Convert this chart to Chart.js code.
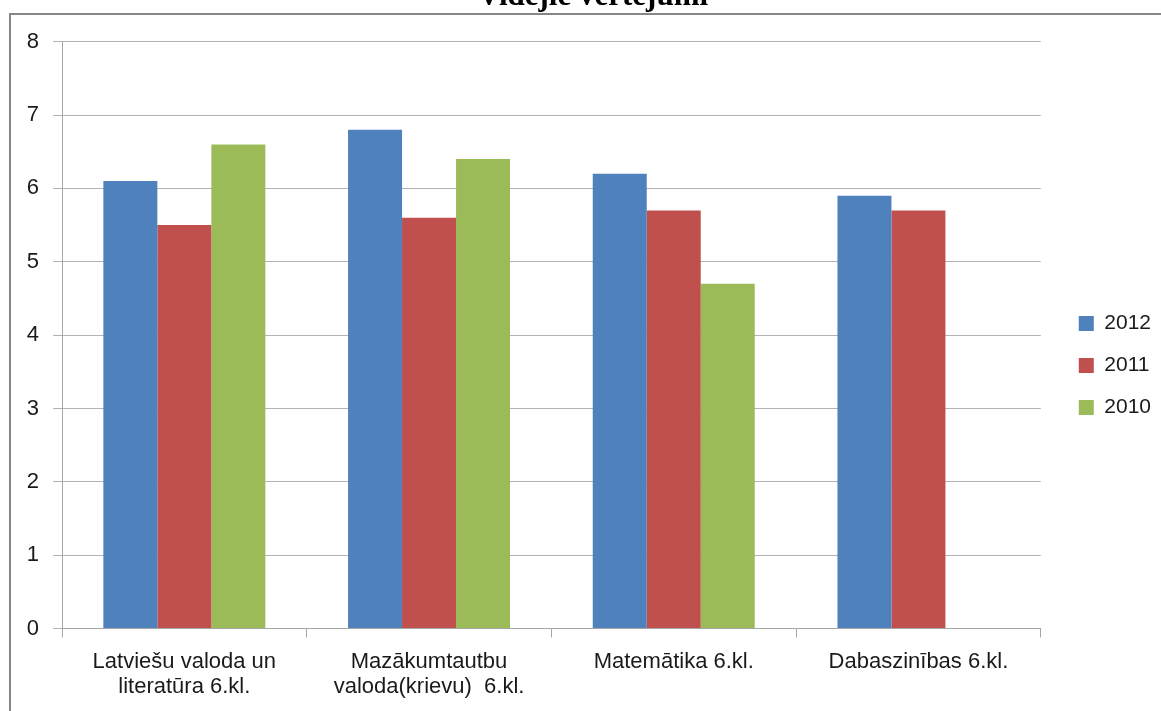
<!DOCTYPE html>
<html>
<head>
<meta charset="utf-8">
<script src="https://cdn.jsdelivr.net/npm/chart.js@4.4.1/dist/chart.umd.min.js"></script>
<style>
  html, body { margin: 0; padding: 0; background: #fff; overflow: hidden; width: 1161px; height: 711px; }
  #frame { position: absolute; left: 9px; top: 13px; width: 1300px; height: 800px;
           border-top: 2px solid #878787; border-left: 2px solid #878787; }
  #gradesChart { position: absolute; left: 0; top: -30px; }
</style>
</head>
<body>
<div id="frame"></div>
<canvas id="gradesChart" width="1161" height="791"></canvas>
<script>
// Average grades by subject
const subjects = [
  ['Latviešu valoda un', 'literatūra 6.kl.'],
  ['Mazākumtautbu', 'valoda(krievu)  6.kl.'],
  'Matemātika 6.kl.',
  'Dabaszinības 6.kl.'
];
const years = ['2012', '2011', '2010'];
const grades2012 = [6.1, 6.8, 6.2, 5.9];
const grades2011 = [5.5, 5.6, 5.7, 5.7];
const grades2010 = [6.6, 6.4, 4.7, null];
const yTicks = [0, 1, 2, 3, 4, 5, 6, 7, 8];

const tickFont = { family: '"Liberation Sans", Arial, sans-serif', size: 22, lineHeight: 1.14 };
const legendFont = { family: '"Liberation Sans", Arial, sans-serif', size: 21 };
const axisGray = '#a6a6a6';
const textColor = '#1a1a1a';

const canvasEl = document.getElementById('gradesChart');
const ctx = canvasEl.getContext('2d');

new Chart(ctx, {
  type: 'bar',
  data: {
    labels: subjects,
    datasets: [
      { label: years[0], data: grades2012, backgroundColor: '#4f81bd' },
      { label: years[1], data: grades2011, backgroundColor: '#c0504d' },
      { label: years[2], data: grades2010, backgroundColor: '#9bbb59' }
    ]
  },
  options: {
    responsive: false,
    animation: false,
    layout: { padding: { left: 24.8, right: 0, top: 0, bottom: 0 } },
    datasets: {
      bar: { categoryPercentage: 0.662, barPercentage: 1.0 }
    },
    plugins: {
      tooltip: { enabled: false },
      title: {
        display: true,
        text: 'Vidējie vērtējumi',
        color: '#000',
        font: { family: '"Liberation Serif", "Times New Roman", serif', size: 31, weight: 'bold' },
        padding: { top: 8, bottom: 26.5 }
      },
      legend: {
        position: 'right',
        labels: {
          color: textColor,
          font: legendFont,
          boxWidth: 15,
          boxHeight: 15,
          padding: 21
        }
      }
    },
    scales: {
      x: {
        grid: {
          offset: true,
          drawOnChartArea: false,
          drawTicks: true,
          tickLength: 9,
          color: axisGray
        },
        border: { color: axisGray, width: 1 },
        ticks: { color: textColor, font: tickFont, padding: 12, maxRotation: 0, autoSkip: false },
        afterFit: (scale) => { scale.height = 132.5; }
      },
      y: {
        min: 0,
        max: 8,
        afterBuildTicks: (scale) => { scale.ticks = yTicks.map(v => ({ value: v })); },
        grid: { color: '#b3b3b3', tickLength: 9 },
        border: { color: axisGray, width: 1 },
        ticks: { color: textColor, font: tickFont, padding: 14 },
        afterFit: (scale) => { scale.width = 37.2; }
      },
      ySpacer: {
        position: 'right',
        display: true,
        grid: { display: false },
        border: { display: false },
        ticks: { display: false },
        afterFit: (scale) => { scale.width = 17; }
      }
    }
  }
});
</script>
</body>
</html>
